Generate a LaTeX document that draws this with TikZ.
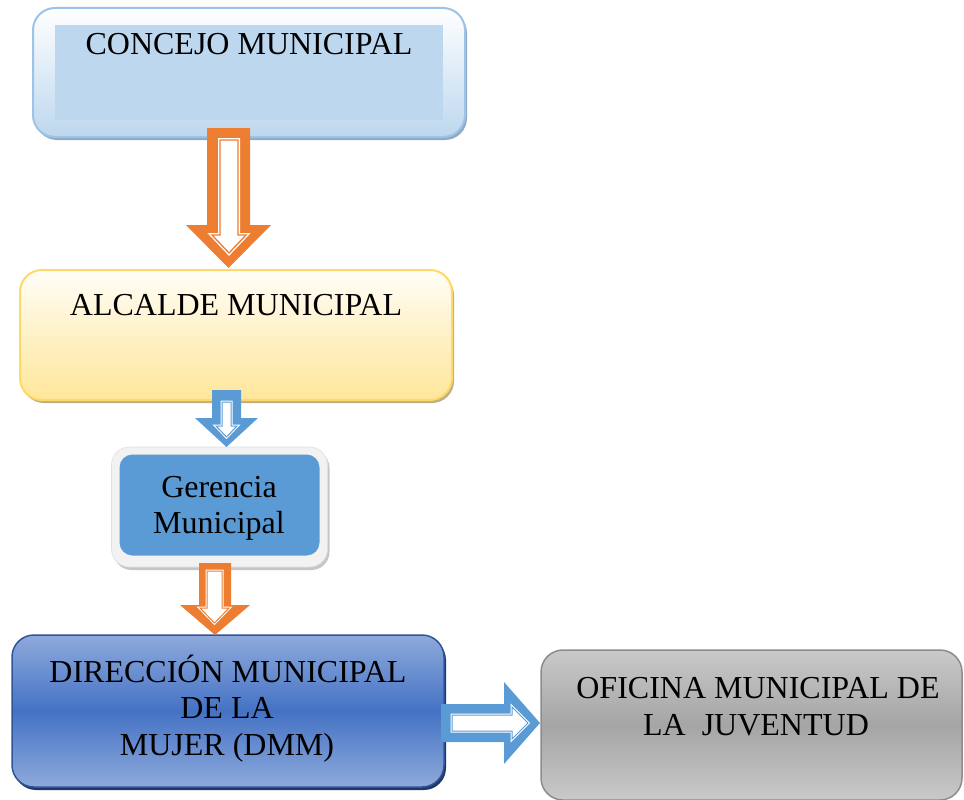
\documentclass[tikz,border=0pt]{standalone}
\usepackage{fontspec}
\setmainfont{Liberation Serif}
\usetikzlibrary{shadows}
\definecolor{cbBorder}{HTML}{9DC3E6}
\definecolor{cbFill}{HTML}{BDD7EE}
\definecolor{cbShadow}{HTML}{8FA9C4}
\definecolor{alBorder}{HTML}{FFD966}
\definecolor{alBottom}{HTML}{FFE699}
\definecolor{alShadow}{HTML}{BDAE86}
\definecolor{grBlue}{HTML}{5B9BD5}
\definecolor{grFrame}{HTML}{F2F2F2}
\definecolor{dmTop}{HTML}{8FAADC}
\definecolor{dmMid}{HTML}{4472C4}
\definecolor{dmBorder}{HTML}{2F5597}
\definecolor{dmShadow}{HTML}{203864}
\definecolor{ofTop}{HTML}{C9C9C9}
\definecolor{ofMid}{HTML}{A5A5A5}
\definecolor{ofBorder}{HTML}{8C8C8C}
\definecolor{arOrange}{HTML}{ED7D31}
\begin{document}
\begin{tikzpicture}[x=1pt,y=-1pt,
  box/.style={rectangle, inner sep=0pt, outer sep=0pt},
  lbl/.style={anchor=base, inner sep=0pt, font=\fontsize{32}{36}\selectfont, text=black},
  arrowout/.style={fill=#1, draw=none},
  arrowin/.style={fill=white, draw=white, line width=4pt, line join=miter},
  arrowline/.style={draw=#1, line width=1.3pt, line join=miter}]
\useasboundingbox (0,0) rectangle (964,800);

% ---- boxes ----
\node[box, minimum width=432pt, minimum height=129pt, rounded corners=22pt,
  top color=white, bottom color=cbFill, draw=cbBorder, line width=2pt,
  drop shadow={shadow xshift=2pt, shadow yshift=-3pt, fill=cbShadow, opacity=1}]
  (concejo) at (249,72.5) {};
\node[box, minimum width=388pt, minimum height=95pt, fill=cbFill] (concejoin) at (249,72.5) {};
\node[lbl] (tconcejo) at (249,55) {CONCEJO MUNICIPAL};

\node[box, minimum width=432pt, minimum height=130pt, rounded corners=22pt,
  top color=white!60!alBottom!20, bottom color=alBottom, draw=alBorder, line width=2pt,
  drop shadow={shadow xshift=2pt, shadow yshift=-3pt, fill=alShadow, opacity=1}]
  (alcalde) at (236,335) {};
\node[lbl] (talcalde) at (236,315) {ALCALDE MUNICIPAL};

\node[box, minimum width=216pt, minimum height=120pt, rounded corners=18pt,
  fill=grFrame, draw=gray!25, line width=0.6pt,
  drop shadow={shadow xshift=2pt, shadow yshift=-3pt, fill=gray!45, opacity=1}]
  (gerenciaout) at (219.5,507) {};
\node[box, minimum width=200pt, minimum height=101pt, rounded corners=13pt,
  fill=grBlue] (gerencia) at (219.5,505) {};
\node[lbl] (tger1) at (219,497) {Gerencia};
\node[lbl] (tger2) at (219,533) {Municipal};

\node[box, minimum width=432pt, minimum height=152pt, rounded corners=22pt,
  top color=dmTop, bottom color=dmTop, middle color=dmMid, draw=dmBorder, line width=1.5pt,
  drop shadow={shadow xshift=2pt, shadow yshift=-3pt, fill=dmShadow, opacity=1}]
  (dmm) at (228,711) {};
\node[lbl] (tdmm1) at (228,682) {DIRECCIÓN MUNICIPAL};
\node[lbl] (tdmm2) at (227,718) {DE LA};
\node[lbl] (tdmm3) at (227,755) {MUJER (DMM)};

\node[box, minimum width=421pt, minimum height=150pt, rounded corners=22pt,
  top color=ofTop, bottom color=ofTop, middle color=ofMid, draw=ofBorder, line width=1.5pt]
  (oficina) at (751.5,725) {};
\node[lbl] (tof1) at (758,698) {OFICINA MUNICIPAL DE};
\node[lbl] (tof2) at (756,735) {LA\ \ JUVENTUD};

% ---- block arrows ----
% concejo -> alcalde
\path[arrowout=arOrange] (207,128) -- (250,128) -- (250,225) -- (271,225) -- (228.5,268) -- (186,225) -- (207,225) -- cycle;
\path[arrowin] (220,140) -- (238,140) -- (238,235) -- (246,235) -- (229,253) -- (212,235) -- (220,235) -- cycle;
\path[arrowline=arOrange] (220,140) -- (238,140) -- (238,235) -- (246,235) -- (229,253) -- (212,235) -- (220,235) -- cycle;

% alcalde -> gerencia
\path[arrowout=grBlue] (212,390) -- (241,390) -- (241,418) -- (258,418) -- (226.5,447) -- (195,418) -- (212,418) -- cycle;
\path[arrowin, line width=3pt] (222,402) -- (231,402) -- (231,426) -- (237,426) -- (226.5,437) -- (216,426) -- (222,426) -- cycle;
\path[arrowline=grBlue, line width=1pt] (222,402) -- (231,402) -- (231,426) -- (237,426) -- (226.5,437) -- (216,426) -- (222,426) -- cycle;

% gerencia -> dmm
\path[arrowout=arOrange] (199,563) -- (231,563) -- (231,605) -- (250,605) -- (215,635) -- (180,605) -- (199,605) -- cycle;
\path[arrowin, line width=3pt] (207,571) -- (222,571) -- (222,608) -- (229,608) -- (214.5,623) -- (200,608) -- (207,608) -- cycle;
\path[arrowline=arOrange, line width=1pt] (207,571) -- (222,571) -- (222,608) -- (229,608) -- (214.5,623) -- (200,608) -- (207,608) -- cycle;

% dmm -> oficina
\path[arrowout=grBlue] (441,704) -- (504,704) -- (504,682) -- (540,723) -- (504,764) -- (504,742) -- (441,742) -- cycle;
\path[arrowin, line width=3pt] (452,715) -- (512,715) -- (512,707) -- (528,723) -- (512,739) -- (512,731) -- (452,731) -- cycle;
\path[arrowline=grBlue, line width=1pt] (452,715) -- (512,715) -- (512,707) -- (528,723) -- (512,739) -- (512,731) -- (452,731) -- cycle;
\end{tikzpicture}
\end{document}
